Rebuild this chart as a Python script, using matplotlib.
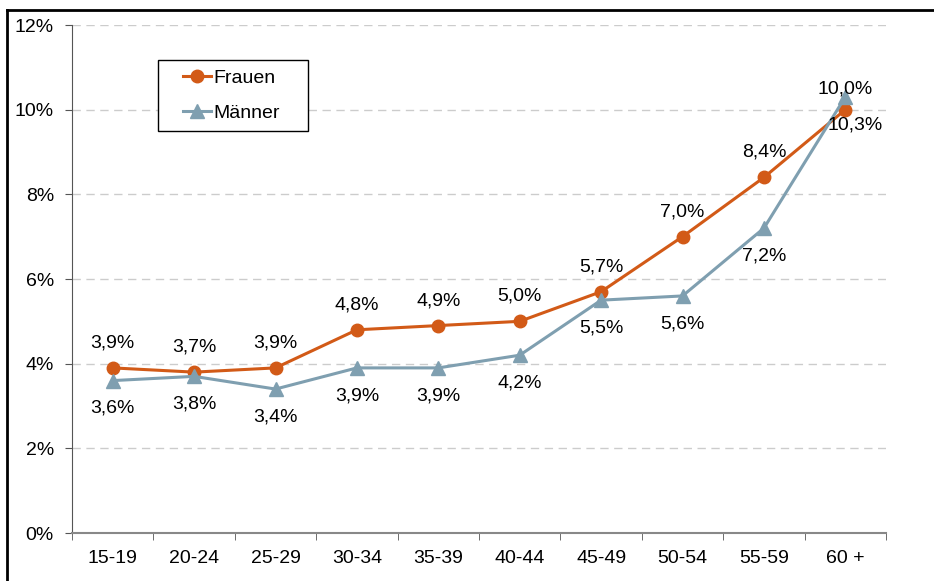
import matplotlib
matplotlib.use("agg")
import matplotlib.pyplot as plt
from matplotlib.lines import Line2D
from matplotlib.patches import Rectangle

plt.rcParams['font.family'] = ['Liberation Sans', 'DejaVu Sans']

categories = ['15-19', '20-24', '25-29', '30-34', '35-39', '40-44',
              '45-49', '50-54', '55-59', '60 +']
frauen = [3.9, 3.8, 3.9, 4.8, 4.9, 5.0, 5.7, 7.0, 8.4, 10.0]
maenner = [3.6, 3.7, 3.4, 3.9, 3.9, 4.2, 5.5, 5.6, 7.2, 10.3]
frauen_labels = ['3,9%', '3,7%', '3,9%', '4,8%', '4,9%', '5,0%',
                 '5,7%', '7,0%', '8,4%', '10,0%']
maenner_labels = ['3,6%', '3,8%', '3,4%', '3,9%', '3,9%', '4,2%',
                  '5,5%', '5,6%', '7,2%', '10,3%']
yticks = [0, 2, 4, 6, 8, 10, 12]

orange = '#D25A17'
grey = '#7F9FB0'
fs = 14

W, H = 934, 581
fig = plt.figure(figsize=(W/100, H/100), dpi=100)
ax = fig.add_axes([72/W, 1 - 533/H, (886 - 72)/W, (533 - 25)/H])

x = list(range(len(categories)))
ax.plot(x, frauen, color=orange, lw=2.2, marker='o', ms=9, label='Frauen', zorder=3)
ax.plot(x, maenner, color=grey, lw=2.2, marker='^', ms=10, label='Männer', zorder=3)

last = len(x) - 1
for i in x:
    dy = 15 if i == last else 18
    ax.annotate(frauen_labels[i], (i, frauen[i]), xytext=(0, dy),
                textcoords='offset points', ha='center', va='center', fontsize=fs)
    dx2 = 7 if i == last else 0
    ax.annotate(maenner_labels[i], (i, maenner[i]), xytext=(dx2, -20),
                textcoords='offset points', ha='center', va='center', fontsize=fs)

ax.set_xlim(-0.5, len(categories) - 0.5)
ax.set_ylim(0, 12)
ax.set_yticks(yticks)
ax.set_yticklabels([f'{v}%' for v in yticks], fontsize=fs)
ax.set_xticks(x)
ax.set_xticklabels(categories, fontsize=fs)
ax.tick_params(axis='x', length=0, pad=12)
ax.set_xticks([i - 0.5 for i in range(len(categories) + 1)], minor=True)
ax.tick_params(axis='x', which='minor', length=5, color='#555555')
ax.tick_params(axis='y', length=5, color='#555555', pad=8)
ax.grid(axis='y', color='#CCCCCC', linestyle=(0, (6, 4)), lw=1)
ax.set_axisbelow(True)
for s in ['top', 'right']:
    ax.spines[s].set_visible(False)
ax.spines['left'].set_color('#555555')
ax.spines['bottom'].set_color('#888888')
ax.spines['bottom'].set_linewidth(1.5)

# legend box drawn separately so the padding matches
fig.add_artist(Rectangle((158/W, 1 - 131/H), 150/W, 71/H, transform=fig.transFigure,
                         facecolor='white', edgecolor='black', lw=1, zorder=5))
leg = fig.legend(loc='upper left', bbox_to_anchor=(183/W, 1 - 69/H),
                 fontsize=fs, frameon=False, handlelength=1.45, handletextpad=0.1,
                 borderpad=0, labelspacing=0.9, borderaxespad=0)
leg.set_zorder(6)

# outer frame (left and top edges visible)
fig.add_artist(Line2D([7/W, 7/W], [0, 1 - 10/H], color='black', lw=2))
fig.add_artist(Line2D([7/W, 1], [1 - 10/H, 1 - 10/H], color='black', lw=2))

plt.savefig('out.png', dpi=100)
plt.close()
